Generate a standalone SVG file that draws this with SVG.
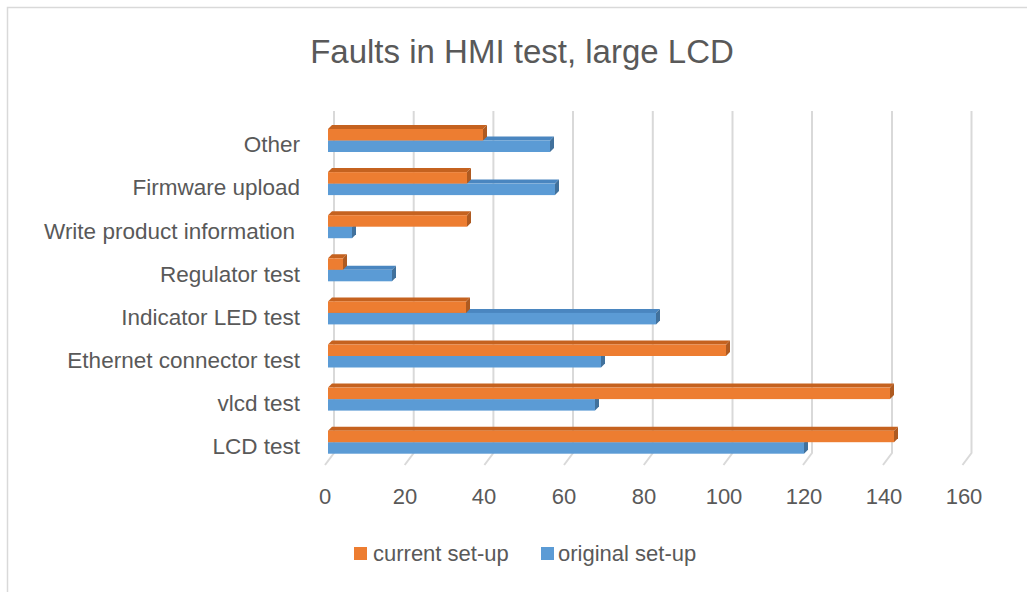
<svg xmlns="http://www.w3.org/2000/svg" width="1027" height="592" viewBox="0 0 1027 592">
<style>
  text { font-family: "Liberation Sans", Arial, sans-serif; fill: #595959; }
  .title { font-size: 33px; }
  .cat { font-size: 22.5px; text-anchor: end; }
  .num { font-size: 22px; text-anchor: middle; }
  .leg { font-size: 22px; }
  .grid { stroke: #D9D9D9; stroke-width: 2; fill: none; }
  .of { fill: #ED7D31; }
  .ot { fill: #C5621F; }
  .oe { fill: #AE5A21; }
  .bf { fill: #5B9BD5; }
  .bt { fill: #4A86C0; }
  .be { fill: #41719C; }
</style>
<rect x="0" y="0" width="1027" height="592" fill="#FFFFFF"/>
<rect x="7.5" y="7.5" width="1030" height="600" fill="#FFFFFF" stroke="#D9D9D9" stroke-width="1.5"/>
<g id="title"><text class="title" x="522" y="63" text-anchor="middle">Faults in HMI test, large LCD</text></g>
<g id="gridlines">
  <path class="grid" d="M334 111 V453 L325 465"/>
  <path class="grid" d="M413.7 111 V453 L404.7 465"/>
  <path class="grid" d="M493.4 111 V453 L484.4 465"/>
  <path class="grid" d="M573 111 V453 L564 465"/>
  <path class="grid" d="M652.8 111 V453 L643.8 465"/>
  <path class="grid" d="M732.5 111 V453 L723.5 465"/>
  <path class="grid" d="M812 111 V453 L803 465"/>
  <path class="grid" d="M892 111 V453 L883 465"/>
  <path class="grid" d="M971.5 111 V453 L962.5 465"/>
</g>
<g id="x-axis">
  <text class="num" x="325" y="504">0</text>
  <text class="num" x="405" y="504">20</text>
  <text class="num" x="484" y="504">40</text>
  <text class="num" x="564" y="504">60</text>
  <text class="num" x="644" y="504">80</text>
  <text class="num" x="724" y="504">100</text>
  <text class="num" x="804" y="504">120</text>
  <text class="num" x="884" y="504">140</text>
  <text class="num" x="964" y="504">160</text>
</g>
<g id="categories">
  <text class="cat" x="300" y="152">Other</text>
  <text class="cat" x="300" y="195">Firmware upload</text>
  <text class="cat" x="295" y="239">Write product information</text>
  <text class="cat" x="300" y="282">Regulator test</text>
  <text class="cat" x="300" y="325">Indicator LED test</text>
  <text class="cat" x="300" y="368">Ethernet connector test</text>
  <text class="cat" x="300" y="411">vlcd test</text>
  <text class="cat" x="300" y="454">LCD test</text>
</g>
<g id="bar-other">
  <polygon class="bt" points="328,140.5 332,136.5 554,136.5 550,140.5"/>
  <rect class="bf" x="328" y="140.5" width="222" height="11.5"/>
  <polygon class="be" points="550,140.5 554,136.5 554,148 550,152"/>
  <polygon class="ot" points="328,129 332,125 487,125 483,129"/>
  <rect class="of" x="328" y="129" width="155" height="11.5"/>
  <polygon class="oe" points="483,129 487,125 487,136.5 483,140.5"/>
</g>
<g id="bar-firmware">
  <polygon class="bt" points="328,183.6 332,179.6 559,179.6 555,183.6"/>
  <rect class="bf" x="328" y="183.6" width="227" height="11.5"/>
  <polygon class="be" points="555,183.6 559,179.6 559,191.1 555,195.1"/>
  <polygon class="ot" points="328,172.1 332,168.1 471,168.1 467,172.1"/>
  <rect class="of" x="328" y="172.1" width="139" height="11.5"/>
  <polygon class="oe" points="467,172.1 471,168.1 471,179.6 467,183.6"/>
</g>
<g id="bar-write">
  <polygon class="bt" points="328,226.7 332,222.7 356,222.7 352,226.7"/>
  <rect class="bf" x="328" y="226.7" width="24" height="11.5"/>
  <polygon class="be" points="352,226.7 356,222.7 356,234.2 352,238.2"/>
  <polygon class="ot" points="328,215.2 332,211.2 471,211.2 467,215.2"/>
  <rect class="of" x="328" y="215.2" width="139" height="11.5"/>
  <polygon class="oe" points="467,215.2 471,211.2 471,222.7 467,226.7"/>
</g>
<g id="bar-regulator">
  <polygon class="bt" points="328,269.8 332,265.8 396,265.8 392,269.8"/>
  <rect class="bf" x="328" y="269.8" width="64" height="11.5"/>
  <polygon class="be" points="392,269.8 396,265.8 396,277.3 392,281.3"/>
  <polygon class="ot" points="328,258.3 332,254.3 347,254.3 343,258.3"/>
  <rect class="of" x="328" y="258.3" width="15" height="11.5"/>
  <polygon class="oe" points="343,258.3 347,254.3 347,265.8 343,269.8"/>
</g>
<g id="bar-indicator">
  <polygon class="bt" points="328,312.9 332,308.9 660,308.9 656,312.9"/>
  <rect class="bf" x="328" y="312.9" width="328" height="11.5"/>
  <polygon class="be" points="656,312.9 660,308.9 660,320.4 656,324.4"/>
  <polygon class="ot" points="328,301.4 332,297.4 470,297.4 466,301.4"/>
  <rect class="of" x="328" y="301.4" width="138" height="11.5"/>
  <polygon class="oe" points="466,301.4 470,297.4 470,308.9 466,312.9"/>
</g>
<g id="bar-ethernet">
  <polygon class="bt" points="328,356 332,352 605,352 601,356"/>
  <rect class="bf" x="328" y="356" width="273" height="11.5"/>
  <polygon class="be" points="601,356 605,352 605,363.5 601,367.5"/>
  <polygon class="ot" points="328,344.5 332,340.5 730,340.5 726,344.5"/>
  <rect class="of" x="328" y="344.5" width="398" height="11.5"/>
  <polygon class="oe" points="726,344.5 730,340.5 730,352 726,356"/>
</g>
<g id="bar-vlcd">
  <polygon class="bt" points="328,399.1 332,395.1 599,395.1 595,399.1"/>
  <rect class="bf" x="328" y="399.1" width="267" height="11.5"/>
  <polygon class="be" points="595,399.1 599,395.1 599,406.6 595,410.6"/>
  <polygon class="ot" points="328,387.6 332,383.6 894,383.6 890,387.6"/>
  <rect class="of" x="328" y="387.6" width="562" height="11.5"/>
  <polygon class="oe" points="890,387.6 894,383.6 894,395.1 890,399.1"/>
</g>
<g id="bar-lcd">
  <polygon class="bt" points="328,442.2 332,438.2 808,438.2 804,442.2"/>
  <rect class="bf" x="328" y="442.2" width="476" height="11.5"/>
  <polygon class="be" points="804,442.2 808,438.2 808,449.7 804,453.7"/>
  <polygon class="ot" points="328,430.7 332,426.7 898,426.7 894,430.7"/>
  <rect class="of" x="328" y="430.7" width="566" height="11.5"/>
  <polygon class="oe" points="894,430.7 898,426.7 898,438.2 894,442.2"/>
</g>
<g id="legend">
  <rect class="of" x="354" y="547" width="13" height="13"/>
  <text class="leg" x="373" y="561">current set-up</text>
  <rect class="bf" x="541" y="547" width="13" height="13"/>
  <text class="leg" x="558" y="561">original set-up</text>
</g>
</svg>
